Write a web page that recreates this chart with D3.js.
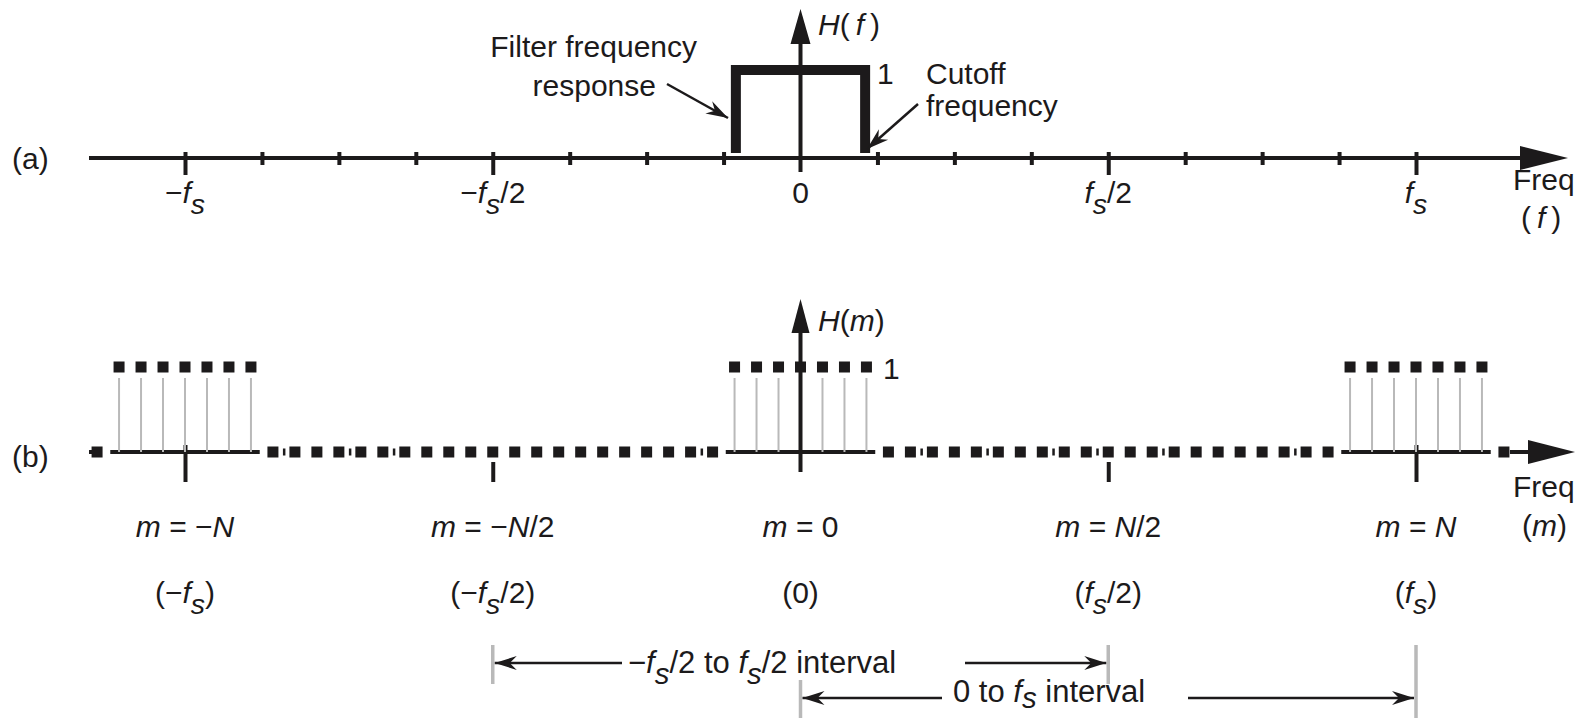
<!DOCTYPE html>
<html><head><meta charset="utf-8">
<script src="https://cdn.jsdelivr.net/npm/d3@7"></script>
<style>
body{margin:0;background:#fff}
svg{display:block}
text{font-family:"Liberation Sans",Arial,Helvetica,sans-serif;fill:#1c1a1b}
</style></head>
<body><svg id="c" width="1586" height="718"></svg>
<script>
// ---------------- data ----------------
const topMinorTicks = [-0.875,-0.75,-0.625,-0.375,-0.25,-0.125,0.125,0.25,0.375,0.625,0.75,0.875];
const topMajorTicks = [-1,-0.5,0.5,1];
const topLabelValues = [-1,-0.5,0,0.5,1];
const topLabels = ["−f_s","−f_s/2","0","f_s/2","f_s"];
const filterEdges = [-0.105, 0.105];   // cutoff frequencies (fraction of fs)
const filterGain = 1;
const binsPerFs = 28;                  // N
const bins = [-32,-31,-30,-29,-28,-27,-26,-25,-24,-23,-22,-21,-20,-19,-18,-17,-16,-15,-14,-13,-12,-11,-10,-9,-8,-7,-6,-5,-4,-3,-2,-1,0,1,2,3,4,5,6,7,8,9,10,11,12,13,14,15,16,17,18,19,20,21,22,23,24,25,26,27,28,29,30,31,32];
const Hm   = [0,1,1,1,1,1,1,1,0,0,0,0,0,0,0,0,0,0,0,0,0,0,0,0,0,0,0,0,0,1,1,1,1,1,1,1,0,0,0,0,0,0,0,0,0,0,0,0,0,0,0,0,0,0,0,0,0,1,1,1,1,1,1,1,0];
const passCenters = [-28,0,28];
const passHalfWidth = 3.4;
const axisGlints = [-23.5,-20.5,-18.5,-4.5,5.5,8.5,11.5,13.5,16.5,22.5];
const botTickValues = [-1,-0.5,0,0.5,1];
const botLabels1 = ["m = −N","m = −N/2","m = 0","m = N/2","m = N"];
const botLabels2 = ["(−f_s)","(−f_s/2)","(0)","(f_s/2)","(f_s)"];

// ---------------- setup ----------------
const svg = d3.select("#c");
const INK = "#1c1a1b", GRAY = "#b9b9b9";
const FS = 30;
const x = d3.scaleLinear().domain([-1,1]).range([185,1416]);
const yA = d3.scaleLinear().domain([0,1]).range([158,70]);
const yB = d3.scaleLinear().domain([0,1]).range([452,367]);

const defs = svg.append("defs");
defs.append("marker").attr("id","ah").attr("viewBox","-24 -9 26 18")
  .attr("refX",0).attr("refY",0).attr("markerWidth",26).attr("markerHeight",18)
  .attr("markerUnits","userSpaceOnUse").attr("orient","auto")
  .append("path").attr("d","M0,0 L-22,-7 L-15,0 L-22,7 Z").attr("fill",INK);

function mathText(g, px, py, str, size, anchor, subShift){
  const t = g.append("text").attr("x",px).attr("y",py).attr("font-size",size)
    .attr("text-anchor",anchor||"middle");
  const toks=[];
  for(let i=0;i<str.length;i++){
    const c=str[i];
    if(c==="_"){ toks.push({s:str[i+1],it:true,sub:true}); i++; }
    else toks.push({s:c,it:"fmNH".includes(c),sub:false});
  }
  const groups=[];
  toks.forEach(k=>{const l=groups[groups.length-1];
    if(l&&l.it===k.it&&l.sub===k.sub) l.s+=k.s; else groups.push({...k});});
  let shift=0;
  groups.forEach(gp=>{
    const sp=t.append("tspan").text(gp.s);
    if(gp.it) sp.attr("font-style","italic");
    const target = gp.sub? size*(subShift||0.36) : 0;
    if(gp.sub) sp.attr("font-size",size*0.95);
    if(target!==shift){ sp.attr("dy",target-shift); shift=target; }
  });
  return t;
}
function line(x1,y1,x2,y2,w,col){
  return svg.append("line").attr("x1",x1).attr("y1",y1).attr("x2",x2).attr("y2",y2)
    .attr("stroke",col||INK).attr("stroke-width",w);
}
function tri(pts){ svg.append("path").attr("d","M"+pts.map(p=>p.join(",")).join("L")+"Z").attr("fill",INK); }
function plain(px,py,s,anchor,size){
  return svg.append("text").attr("x",px).attr("y",py).attr("font-size",size||FS)
    .attr("text-anchor",anchor||"start").text(s);
}

// ---------------- panel (a) ----------------
const a0 = yA(0);
line(89,a0,1522,a0,4);
tri([[1520,a0-12],[1568,a0],[1520,a0+12]]);
const axA = svg.append("g").attr("transform",`translate(0,${a0})`)
  .call(d3.axisBottom(x).tickValues(topMinorTicks).tickSize(7).tickFormat(""));
axA.select(".domain").remove();
axA.selectAll(".tick line").attr("y1",-6).attr("stroke",INK).attr("stroke-width",4);
const axA2 = svg.append("g").attr("transform",`translate(0,${a0})`)
  .call(d3.axisBottom(x).tickValues(topMajorTicks).tickSize(17).tickFormat(""));
axA2.select(".domain").remove();
axA2.selectAll(".tick line").attr("y1",-6).attr("stroke",INK).attr("stroke-width",4);
line(x(0),172,x(0),42,4);
tri([[x(0)-10,44],[x(0),9],[x(0)+10,44]]);
mathText(svg,818,35,"H(\u2009f\u2009)",FS,"start");
svg.append("path")
  .attr("d",`M${x(filterEdges[0])},${a0-5}V${yA(filterGain)}H${x(filterEdges[1])}V${a0-5}`)
  .attr("fill","none").attr("stroke",INK).attr("stroke-width",10);
plain(877,84,"1");
topLabelValues.forEach((v,i)=>mathText(svg,x(v),203,topLabels[i],FS,"middle"));
plain(697,57,"Filter frequency","end");
plain(656,96,"response","end");
line(667,84,728,118,2.5).attr("marker-end","url(#ah)");
plain(926,84,"Cutoff");
plain(926,116,"frequency");
line(918,104,867,149,2.5).attr("marker-end","url(#ah)");
plain(12,169,"(a)");
plain(1513,190,"Freq");
mathText(svg,1521,228,"(\u2009f\u2009)",FS,"start");

// ---------------- panel (b) ----------------
const b0 = yB(0);
const xm = m => x(m/binsPerFs);
line(89,b0,97,b0,4);
passCenters.forEach(c=>line(xm(c-passHalfWidth),b0,xm(c+passHalfWidth),b0,4));
line(xm(32)+6,b0,1530,b0,4);
tri([[1528,b0-12],[1575,b0],[1528,b0+12]]);
svg.append("g").selectAll("rect").data(axisGlints).join("rect")
  .attr("x",d=>xm(d)-1).attr("y",b0-3.5).attr("width",2.5).attr("height",7).attr("fill",INK);
const axB = svg.append("g").attr("transform",`translate(0,${b0})`)
  .call(d3.axisBottom(x).tickValues([-1,1]).tickSize(30).tickFormat(""));
axB.select(".domain").remove();
axB.selectAll(".tick line").attr("y1",-7).attr("stroke",INK).attr("stroke-width",4);
const axB2 = svg.append("g").attr("transform",`translate(0,${b0})`)
  .call(d3.axisBottom(x).tickValues([-0.5,0.5]).tickSize(30).tickFormat(""));
axB2.select(".domain").remove();
axB2.selectAll(".tick line").attr("y1",10).attr("stroke",INK).attr("stroke-width",4);
svg.append("g").selectAll("line").data(bins.filter((m,i)=>Hm[i]>0)).join("line")
  .attr("x1",d=>xm(d)).attr("x2",d=>xm(d)).attr("y1",b0).attr("y2",yB(1)+11)
  .attr("stroke",GRAY).attr("stroke-width",2);
line(x(0),472,x(0),330,4);
tri([[x(0)-9,333],[x(0),299],[x(0)+9,333]]);
svg.append("g").selectAll("rect").data(bins).join("rect")
  .attr("x",d=>xm(d)-5.5).attr("y",(d,i)=>yB(Hm[i])-5.5)
  .attr("width",11).attr("height",11).attr("fill",INK);
mathText(svg,818,331,"H(m)",FS,"start");
plain(883,379,"1");
plain(12,467,"(b)");
botTickValues.forEach((v,i)=>{
  mathText(svg,x(v),537,botLabels1[i],FS,"middle");
  mathText(svg,x(v),603,botLabels2[i],FS,"middle");
});
plain(1513,497,"Freq");
mathText(svg,1522,536,"(m)",FS,"start");

// ---------------- intervals ----------------
line(x(-0.5),645,x(-0.5),684,3.5,GRAY);
line(x(0.5),645,x(0.5),684,3.5,GRAY);
line(x(0),680,x(0),718,3.5,GRAY);
line(x(1),645,x(1),718,3.5,GRAY);
line(622,663,x(-0.5)+2,663,2.5).attr("marker-end","url(#ah)");
line(965,663,x(0.5)-2,663,2.5).attr("marker-end","url(#ah)");
mathText(svg,628,673,"−f_s/2 to f_s/2 interval",31,"start");
line(942,698,x(0)+2,698,2.5).attr("marker-end","url(#ah)");
line(1188,698,x(1)-2,698,2.5).attr("marker-end","url(#ah)");
mathText(svg,953,702,"0 to f_s interval",31,"start",0.2);
</script></body></html>
